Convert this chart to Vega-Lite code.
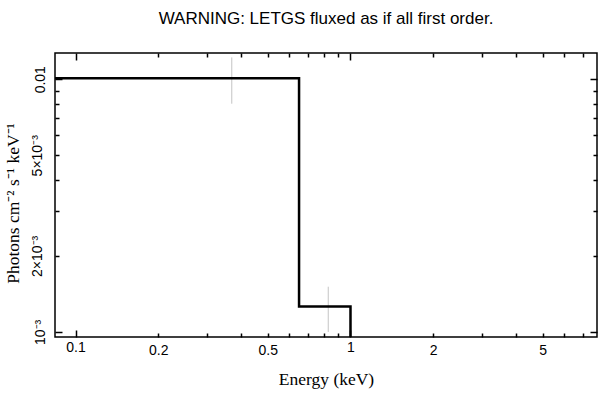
{
  "$schema": "https://vega.github.io/schema/vega-lite/v6.json",
  "width": 542,
  "height": 284,
  "autosize": "none",
  "padding": {"left": 55, "top": 53, "right": 11, "bottom": 62},
  "background": "white",
  "title": {
    "text": "WARNING: LETGS fluxed as if all first order.",
    "font": "Liberation Sans",
    "fontSize": 17,
    "fontWeight": "normal",
    "color": "black",
    "offset": 24
  },
  "config": {
    "view": {"stroke": "black", "strokeWidth": 1.5},
    "axis": {
      "grid": false,
      "domain": false,
      "tickColor": "black",
      "tickWidth": 1.5,
      "labelColor": "black",
      "labelFont": "Liberation Sans",
      "labelFontSize": 14,
      "titleColor": "black",
      "titleFont": "Liberation Serif",
      "titleFontSize": 17.5,
      "titleFontWeight": "normal",
      "labelOverlap": false,
      "labelFlush": false
    }
  },
  "datasets": {
    "spectrum": [
      {"energy": 0.08, "flux": 0.0101},
      {"energy": 0.65, "flux": 0.00126},
      {"energy": 1.0, "flux": 0.0005}
    ],
    "errors": [
      {"energy": 0.37, "lo": 0.0080, "hi": 0.0122},
      {"energy": 0.83, "lo": 0.00100, "hi": 0.00151}
    ]
  },
  "layer": [
    {
      "data": {"name": "errors"},
      "mark": {"type": "rule", "color": "#c4c4c4", "strokeWidth": 1, "clip": true},
      "encoding": {
        "x": {
          "field": "energy",
          "type": "quantitative",
          "scale": {"type": "log", "domain": [0.0842, 7.88], "nice": false},
          "axis": {
            "orient": "bottom",
            "title": "Energy (keV)",
            "values": [0.1, 0.2, 0.3, 0.4, 0.5, 0.6, 0.7, 0.8, 0.9, 1, 2, 3, 4, 5, 6, 7],
            "labelExpr": "indexof([0.1, 0.2, 0.5, 1, 2, 5], datum.value) >= 0 ? toString(datum.value) : ''",
            "tickSize": {"condition": {"test": "datum.value == 0.1 || datum.value == 1", "value": -7}, "value": -4},
            "labelPadding": 10,
            "titlePadding": 13
          }
        },
        "y": {
          "field": "lo",
          "type": "quantitative",
          "scale": {"type": "log", "domain": [0.000955, 0.0127], "nice": false},
          "axis": {
            "orient": "left",
            "title": "Photons cm⁻² s⁻¹ keV⁻¹",
            "titleY": 150,
            "values": [0.001, 0.002, 0.003, 0.004, 0.005, 0.006, 0.007, 0.008, 0.009, 0.01],
            "labelExpr": "datum.value == 0.01 ? '0.01' : datum.value == 0.005 ? '5×10⁻³' : datum.value == 0.002 ? '2×10⁻³' : datum.value == 0.001 ? '10⁻³' : ''",
            "labelAngle": -90,
            "labelAlign": "center",
            "labelBaseline": "bottom",
            "tickSize": {"condition": {"test": "datum.value == 0.01 || datum.value == 0.001", "value": -7}, "value": -4},
            "labelPadding": 15,
            "titlePadding": 8
          }
        },
        "y2": {"field": "hi"}
      }
    },
    {
      "data": {"name": "spectrum"},
      "mark": {"type": "line", "interpolate": "step-after", "color": "black", "strokeWidth": 2.5, "clip": true},
      "encoding": {
        "x": {
          "field": "energy",
          "type": "quantitative",
          "axis": {
            "orient": "top",
            "title": null,
            "labels": false,
            "values": [0.1, 0.2, 0.3, 0.4, 0.5, 0.6, 0.7, 0.8, 0.9, 1, 2, 3, 4, 5, 6, 7],
            "tickSize": {"condition": {"test": "datum.value == 0.1 || datum.value == 1", "value": -7}, "value": -4}
          }
        },
        "y": {
          "field": "flux",
          "type": "quantitative",
          "axis": {
            "orient": "right",
            "title": null,
            "labels": false,
            "values": [0.001, 0.002, 0.003, 0.004, 0.005, 0.006, 0.007, 0.008, 0.009, 0.01],
            "tickSize": {"condition": {"test": "datum.value == 0.01 || datum.value == 0.001", "value": -7}, "value": -4}
          }
        }
      }
    }
  ],
  "resolve": {"axis": {"x": "independent", "y": "independent"}}
}
